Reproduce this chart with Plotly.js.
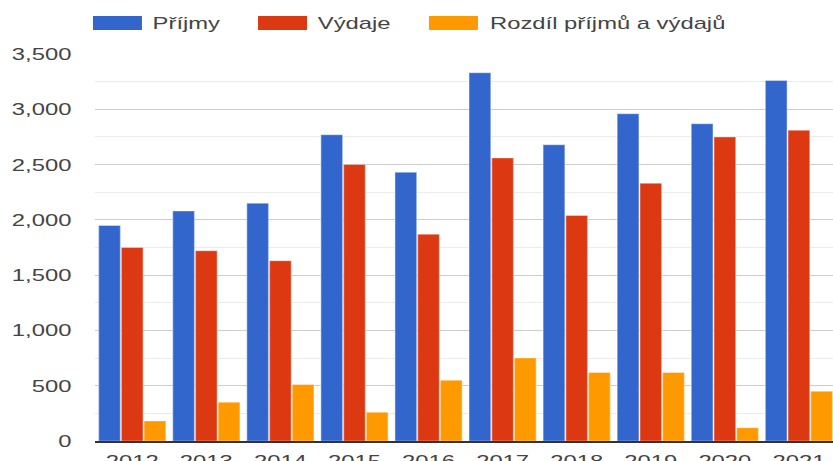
<!DOCTYPE html>
<html>
<head>
<meta charset="utf-8">
<script src="https://cdn.plot.ly/plotly-3.0.1.min.js"></script>
<style>
html,body{margin:0;padding:0;width:833px;height:461px;overflow:hidden;background:#fff;}
#wrap{width:833px;height:461px;overflow:hidden;}
#chart{width:595px;height:461px;transform:scaleX(1.4);transform-origin:0 0;}
</style>
</head>
<body>
<div id="wrap"><div id="chart"></div></div>
<script>
const years = ['2012','2013','2014','2015','2016','2017','2018','2019','2020','2021'];
const prijmy = [1950, 2080, 2150, 2770, 2430, 3330, 2680, 2960, 2870, 3260];
const vydaje = [1750, 1720, 1630, 2500, 1870, 2560, 2040, 2330, 2750, 2810];
const rozdil = [180, 350, 510, 260, 550, 750, 620, 620, 120, 450];
const seriesNames = ['Příjmy', 'Výdaje', 'Rozdíl příjmů a výdajů'];
const seriesColors = ['#3366cc', '#dc3912', '#ff9900'];
const yTicks = [0, 500, 1000, 1500, 2000, 2500, 3000, 3500];

const values = [prijmy, vydaje, rozdil];
const traces = values.map((v, i) => ({
  type: 'bar',
  x: years,
  y: v,
  name: seriesNames[i],
  marker: {color: seriesColors[i], line: {color: 'rgba(255,255,255,0.35)', width: 1}},
  hoverinfo: 'x+y+name'
}));

// layout (pre-scale pixel space: width 595)
const W = 595, H = 461, mL = 68, mT = 54, mB = 20;
const plotW = W - mL, plotH = H - mT - mB;
const px = x => (x - mL) / plotW;
const py = y => (H - mB - y) / plotH;

const legendX = [[66.4, 101.4, 107.1], [184.3, 219.3, 225.0], [306.4, 341.4, 347.9]];
const shapes = [];
const annotations = [];
legendX.forEach((lx, i) => {
  shapes.push({type: 'rect', xref: 'paper', yref: 'paper',
    x0: px(lx[0]), x1: px(lx[1]), y0: py(30), y1: py(16),
    fillcolor: seriesColors[i], line: {width: 0}});
  annotations.push({xref: 'paper', yref: 'paper', x: px(lx[2]), y: py(23),
    xanchor: 'left', yanchor: 'middle', showarrow: false, text: seriesNames[i],
    font: {family: 'Liberation Sans, Arial, sans-serif', size: 17, color: '#444'}});
});

const layout = {
  width: W, height: H,
  margin: {l: mL, r: 0, t: mT, b: mB, pad: 0},
  paper_bgcolor: '#fff', plot_bgcolor: '#fff',
  barmode: 'group', bargap: 0.08, bargroupgap: 0.04,
  showlegend: false,
  font: {family: 'Liberation Sans, Arial, sans-serif', size: 17, color: '#444'},
  xaxis: {
    type: 'category', range: [-0.5, 9.46], showgrid: false, zeroline: false,
    showline: true, linecolor: '#333', linewidth: 1.5, ticks: '',
    ticklabelstandoff: 4, fixedrange: true
  },
  yaxis: {
    range: [0, 3500], tickvals: yTicks, tickformat: ',', ticks: '',
    showgrid: true, gridcolor: '#cccccc', gridwidth: 1, zeroline: false,
    showline: false, ticklabelstandoff: 16,
    minor: {dtick: 250, showgrid: true, gridcolor: '#ebebeb', gridwidth: 1},
    fixedrange: true
  },
  separators: '.,',
  shapes: shapes,
  annotations: annotations
};

Plotly.newPlot('chart', traces, layout, {displayModeBar: false, staticPlot: true});
</script>
</body>
</html>
